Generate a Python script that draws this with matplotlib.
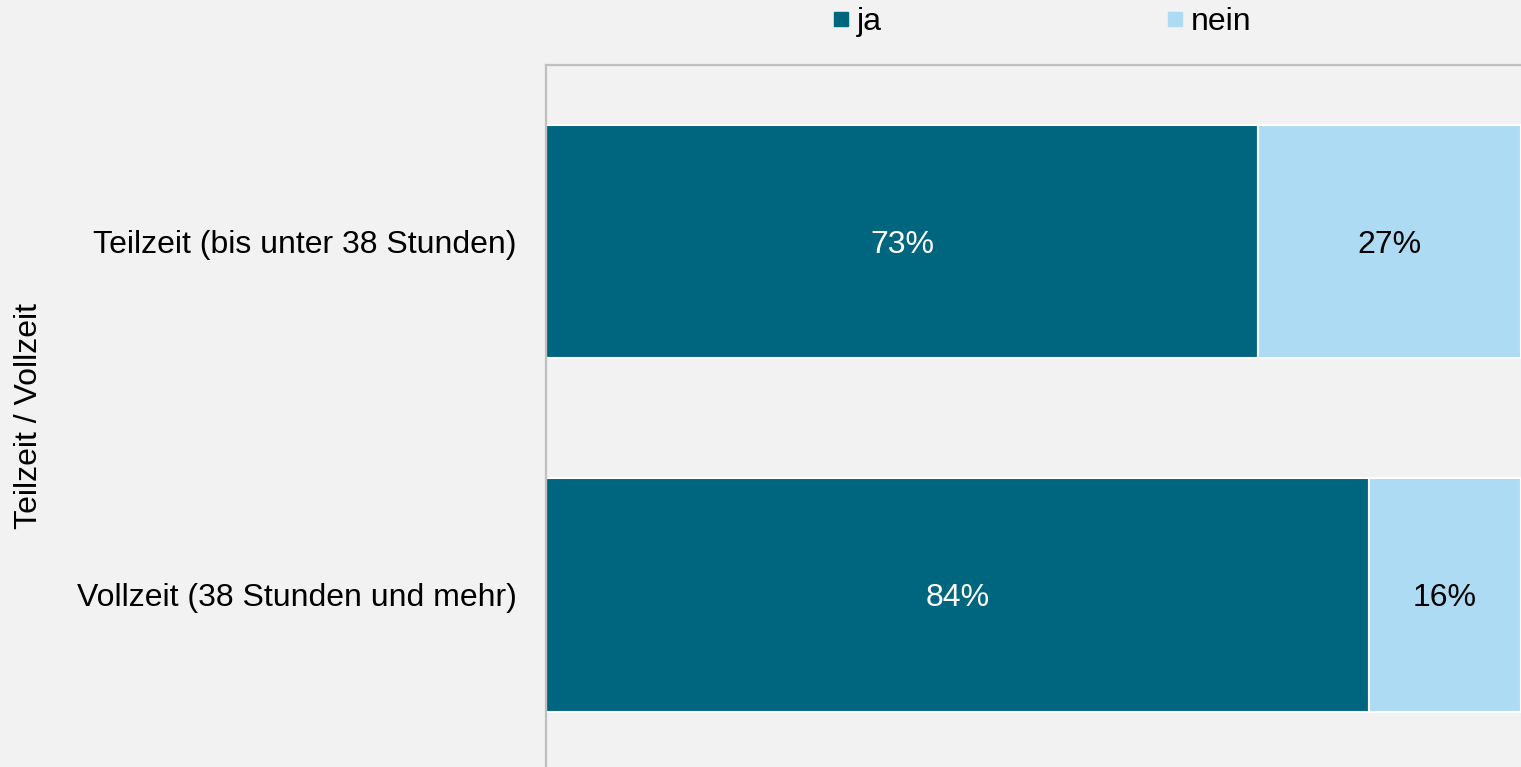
import numpy as np
import matplotlib.pyplot as plt
from matplotlib.lines import Line2D

plt.rcParams['font.family'] = ['Liberation Sans', 'DejaVu Sans']

categories = ['Teilzeit (bis unter 38 Stunden)', 'Vollzeit (38 Stunden und mehr)']
ja = [0.73, 0.844]
nein = [0.27, 0.156]
series_names = ['ja', 'nein']
colors = ['#006680', '#ADDBF4']

bg = '#F2F2F2'
fs = 23
fig = plt.figure(figsize=(15.21, 7.67), dpi=100, facecolor=bg)
ax = fig.add_axes([546 / 1521, 0, 1 - 546 / 1521, 1 - 65 / 767])
ax.set_facecolor(bg)

y = np.arange(len(categories))
h = 0.66
ax.barh(y, ja, height=h, color=colors[0], edgecolor='white', linewidth=1.5)
ax.barh(y, nein, left=ja, height=h, color=colors[1], edgecolor='white', linewidth=1.5)

for i in range(len(categories)):
    ax.text(ja[i] / 2, y[i], f'{ja[i] * 100:.0f}%', ha='center', va='center_baseline',
            color='white', fontsize=fs)
    ax.text(ja[i] + nein[i] / 2, y[i], f'{nein[i] * 100:.0f}%', ha='center',
            va='center_baseline', color='black', fontsize=fs)

ax.set_xlim(0, 1)
ax.set_ylim(1.487, -0.5)
ax.set_yticks(y)
ax.set_yticklabels(categories, fontsize=fs)
ax.set_xticks([])
ax.tick_params(axis='y', length=0, pad=21)
ax.set_ylabel('Teilzeit / Vollzeit', fontsize=fs)
ax.yaxis.set_label_coords((44 - 546) / 975, 0.5)

for s in ['right', 'bottom']:
    ax.spines[s].set_visible(False)
for s in ['left', 'top']:
    ax.spines[s].set_color('#BFBFBF')
    ax.spines[s].set_linewidth(1.6)

handles = [Line2D([], [], marker='s', linestyle='none', markersize=9.5,
                  markerfacecolor=c, markeredgecolor=c) for c in colors]
fig.legend(handles, series_names, loc='center', bbox_to_anchor=(1040 / 1521, 1 - 22 / 767),
           ncol=2, frameon=False, fontsize=fs, columnspacing=8.76,
           handletextpad=0.1, handlelength=0.8)

fig.savefig('out.png', dpi=100, facecolor=bg)
